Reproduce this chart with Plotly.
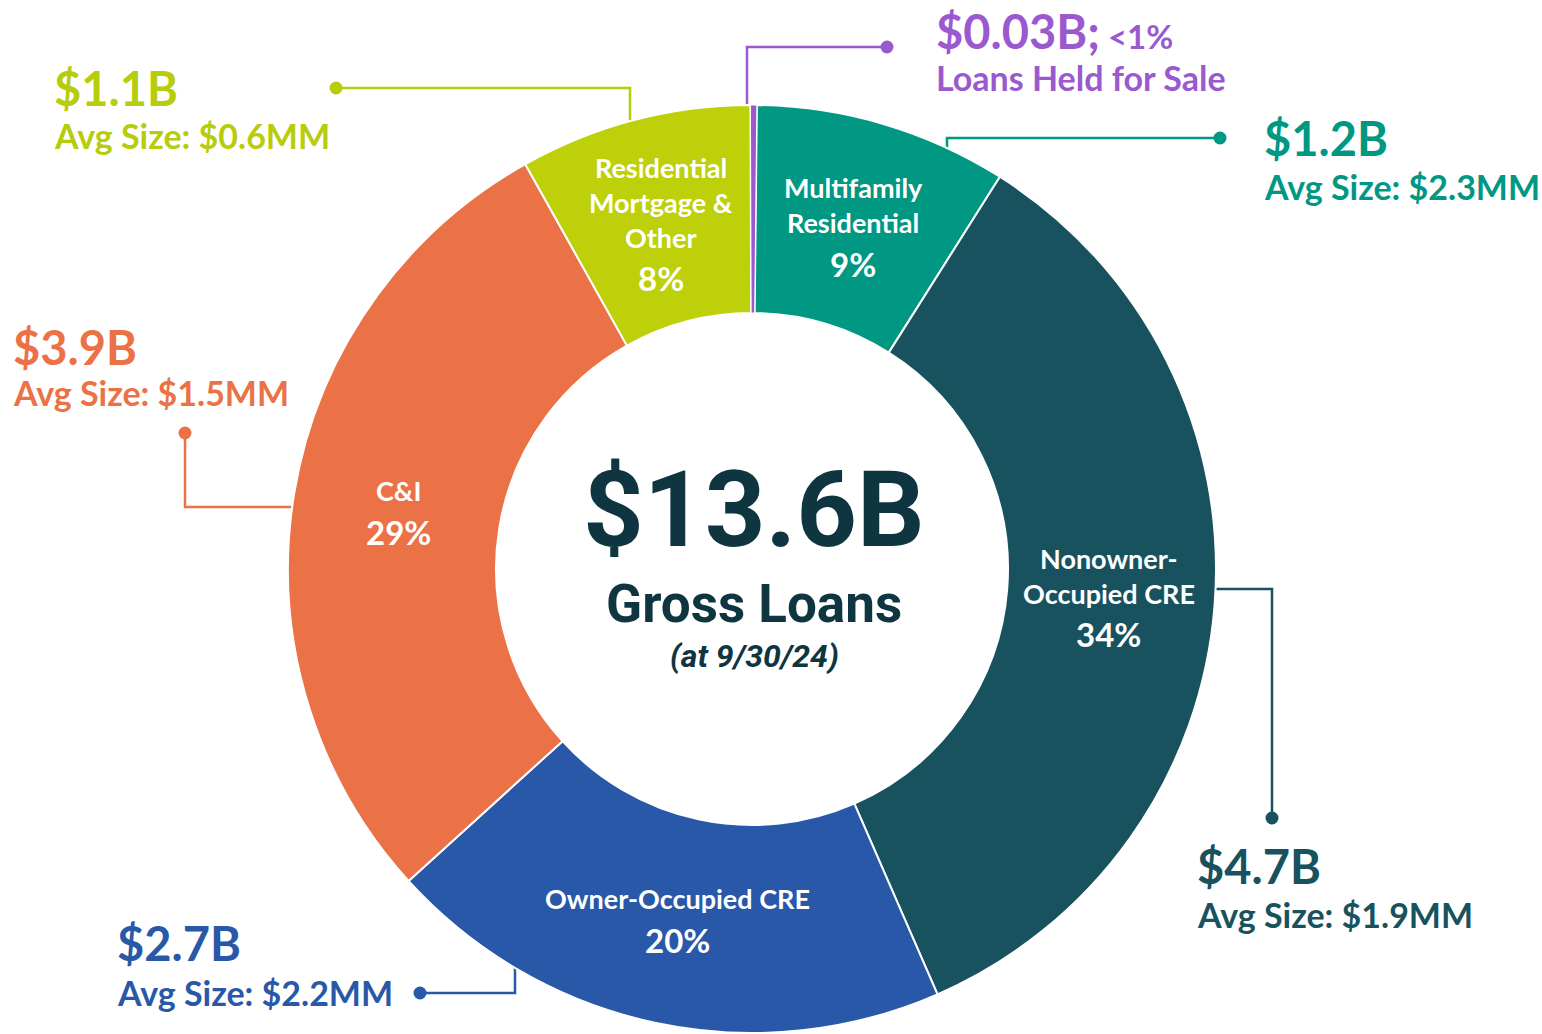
import math
import plotly.graph_objects as go

# ---------------- data ----------------
categories = ["Multifamily Residential", "Nonowner-Occupied CRE", "Owner-Occupied CRE",
              "C&I", "Residential Mortgage & Other", "Loans Held for Sale"]
balances_b = [1.2, 4.7, 2.7, 3.9, 1.1, 0.03]
pct_labels = ["9%", "34%", "20%", "29%", "8%", "<1%"]
balance_labels = ["$1.2B", "$4.7B", "$2.7B", "$3.9B", "$1.1B", "$0.03B;"]
sub_labels = ["Avg Size: $2.3MM", "Avg Size: $1.9MM", "Avg Size: $2.2MM",
              "Avg Size: $1.5MM", "Avg Size: $0.6MM", "Loans Held for Sale"]
slice_label_lines = [["Multifamily", "Residential"], ["Nonowner-", "Occupied CRE"],
                     ["Owner-Occupied CRE"], ["C&I"], ["Residential", "Mortgage &", "Other"], []]
colors = ["#009783", "#18525f", "#2958a8", "#eb7147", "#bdd00a", "#9b59d0"]
text_colors = ["#009783", "#18525f", "#2958a8", "#eb7147", "#b7cc0a", "#9b59d0"]
total_label = "$13.6B"
total_sub = "Gross Loans"
total_date = "(at 9/30/24)"

# ---------------- geometry ----------------
W, H = 1542, 1034
CX, CY, R, RIN = 752, 569, 464, 256
ROT = 0.6
LABEL_FONT = "Lato"

fig = go.Figure()

fx = CX / W
fy = 1 - CY / H
fig.add_trace(go.Pie(
    labels=categories, values=balances_b, sort=False, direction="clockwise",
    rotation=ROT, hole=RIN / R, textinfo="none", hoverinfo="label+value",
    marker=dict(colors=colors, line=dict(color="white", width=[2, 2, 2, 2, 2, 1])),
    domain=dict(x=[fx - R / W, fx + R / W], y=[fy - R / H, fy + R / H]),
    showlegend=False,
))

annotations = []

def ann(x, y, text, size, color, family=LABEL_FONT, xanchor="center", weight=700, style="normal"):
    annotations.append(dict(x=x, y=y, xref="x", yref="y", text=text, showarrow=False,
                            xanchor=xanchor, yanchor="middle",
                            font=dict(family=family, size=size, color=color, weight=weight, style=style)))

# slice labels at mid-angle of each slice
total = sum(balances_b)
cum = 0.0
RMID = 358
for i, v in enumerate(balances_b):
    a0 = ROT + cum / total * 360
    cum += v
    a1 = ROT + cum / total * 360
    lines = slice_label_lines[i]
    if not lines:
        continue
    am = math.radians((a0 + a1) / 2)
    px = CX + RMID * math.sin(am)
    py = CY - RMID * math.cos(am)
    n = len(lines)
    span = 35 * (n - 1) + 41
    y0 = py - span / 2
    for k, t in enumerate(lines):
        ann(px, y0 + 35 * k, t, 27, "white")
    ann(px, y0 + 35 * (n - 1) + 41, pct_labels[i], 33, "white")

# callouts: leader paths (pixel coords) and text anchors
callouts = [
    dict(path=[(947, 150), (947, 138), (1220, 138)], tx=1262, ty=[138, 186]),
    dict(path=[(1214, 589), (1272, 589), (1272, 818)], tx=1195, ty=[866, 914]),
    dict(path=[(515, 968), (515, 993), (420, 993)], tx=115, ty=[943, 992]),
    dict(path=[(292, 507), (185, 507), (185, 433)], tx=11, ty=[347, 392]),
    dict(path=[(630, 122), (630, 88), (336, 88)], tx=52, ty=[88, 135]),
    dict(path=[(747, 113), (747, 47), (887, 47)], tx=934, ty=[31, 77]),
]

for i, c in enumerate(callouts):
    xs = [p[0] for p in c["path"]]
    ys = [p[1] for p in c["path"]]
    fig.add_trace(go.Scatter(x=xs, y=ys, mode="lines", line=dict(color=text_colors[i], width=2.5),
                             hoverinfo="skip", showlegend=False))
    fig.add_trace(go.Scatter(x=[xs[-1]], y=[ys[-1]], mode="markers",
                             marker=dict(color=text_colors[i], size=13), hoverinfo="skip", showlegend=False))
    big = balance_labels[i]
    if i == len(callouts) - 1:
        big = big + "<span style='font-size:33px'> &lt;1%</span>"
    ann(c["tx"], c["ty"][0], big, 47, text_colors[i], xanchor="left")
    ann(c["tx"], c["ty"][1], sub_labels[i], 34, text_colors[i], xanchor="left")

# purple small end dot at slice top
fig.add_trace(go.Scatter(x=[748], y=[114], mode="markers", marker=dict(color=colors[-1], size=11),
                         hoverinfo="skip", showlegend=False))

# center text
ann(754, 510, total_label, 106, "#0e3540", family="Roboto")
ann(754, 604, total_sub, 53, "#0e3540", family="Roboto")
ann(754, 656, total_date, 32, "#0e3540", family="Roboto", style="italic")

fig.update_layout(
    width=W, height=H, margin=dict(l=0, r=0, t=0, b=0),
    paper_bgcolor="white", plot_bgcolor="rgba(0,0,0,0)",
    xaxis=dict(range=[0, W], visible=False, fixedrange=True),
    yaxis=dict(range=[H, 0], visible=False, fixedrange=True),
    annotations=annotations,
)

fig.write_html("out.html", config={"displayModeBar": False},
               post_script="document.body.style.margin='0px';document.body.style.overflow='hidden';")
